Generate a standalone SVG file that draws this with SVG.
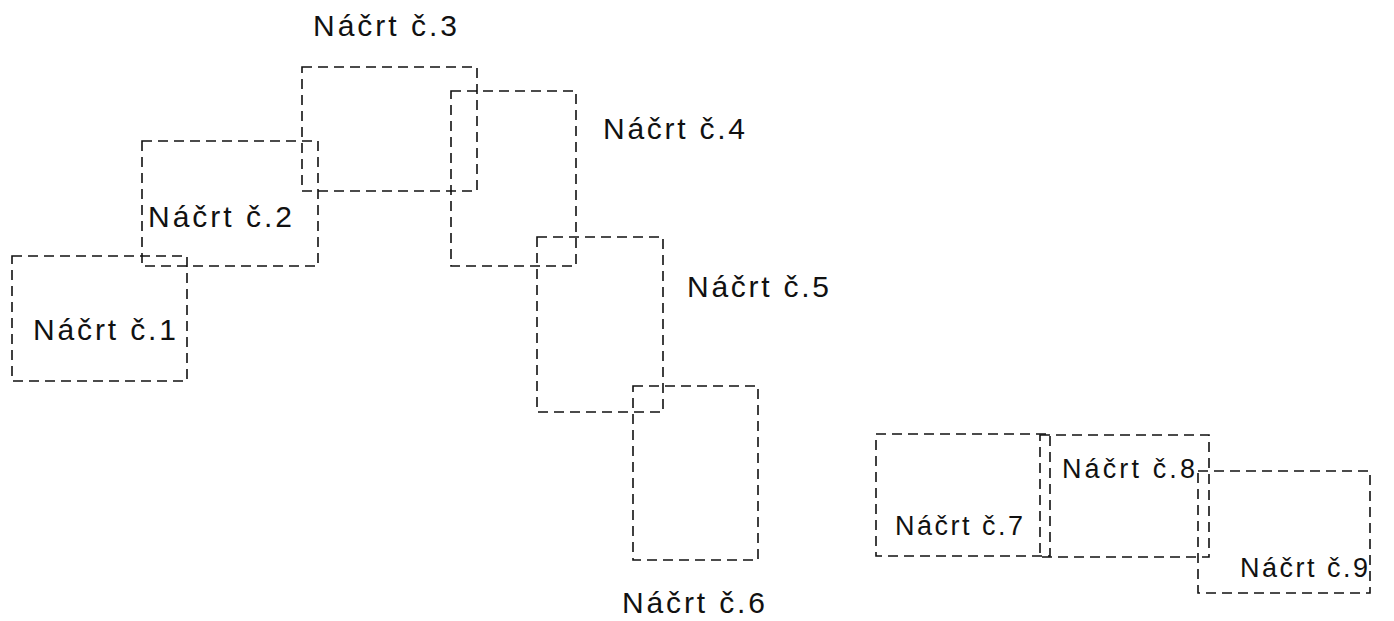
<svg xmlns="http://www.w3.org/2000/svg" width="1394" height="621" viewBox="0 0 1394 621">
<style>
.r{fill:none;stroke:#111;stroke-width:1.6;stroke-dasharray:10 6}
.t{font-family:"Liberation Sans",Arial,sans-serif;font-size:30px;fill:#111}
.s{font-size:27px}
</style>
<rect width="1394" height="621" fill="#fff"/>
<g id="nacrt1"><rect class="r" x="12" y="256" width="175" height="125"/><text class="t" x="33" y="340" textLength="143" lengthAdjust="spacing">Náčrt č.1</text></g>
<g id="nacrt2"><rect class="r" x="142" y="141" width="176" height="125"/><text class="t" x="148" y="227" textLength="144" lengthAdjust="spacing">Náčrt č.2</text></g>
<g id="nacrt3"><rect class="r" x="302" y="67" width="175" height="124"/><text class="t" x="313" y="36" textLength="144" lengthAdjust="spacing">Náčrt č.3</text></g>
<g id="nacrt4"><rect class="r" x="451" y="91" width="125" height="175"/><text class="t" x="603" y="139" textLength="142" lengthAdjust="spacing">Náčrt č.4</text></g>
<g id="nacrt5"><rect class="r" x="537" y="237" width="126" height="175"/><text class="t" x="687" y="297" textLength="142" lengthAdjust="spacing">Náčrt č.5</text></g>
<g id="nacrt6"><rect class="r" x="633" y="386" width="125" height="174"/><text class="t" x="622" y="613" textLength="143" lengthAdjust="spacing">Náčrt č.6</text></g>
<g id="nacrt7"><rect class="r" x="876" y="434" width="174" height="122"/><text class="t s" x="895" y="535" textLength="128" lengthAdjust="spacing">Náčrt č.7</text></g>
<g id="nacrt8"><rect class="r" x="1040" y="435" width="169" height="122"/><text class="t s" x="1062" y="478" textLength="133" lengthAdjust="spacing">Náčrt č.8</text></g>
<g id="nacrt9"><rect class="r" x="1198" y="471" width="172" height="122"/><text class="t s" x="1240" y="577" textLength="128" lengthAdjust="spacing">Náčrt č.9</text></g>
<g id="connectors"/>
</svg>
